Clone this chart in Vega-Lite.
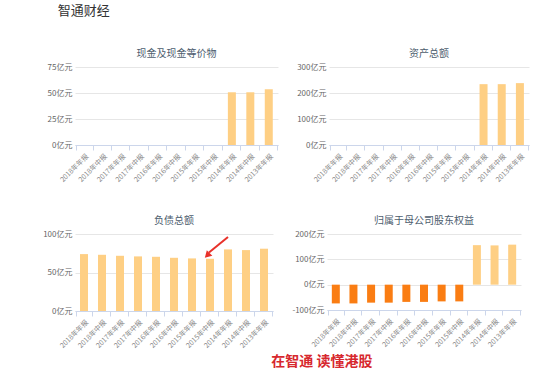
{
  "$schema": "https://vega.github.io/schema/vega-lite/v6.json",
  "background": "white",
  "padding": {"left": 42, "top": 5, "right": 5, "bottom": 5},
  "datasets": {
    "fin": [
      {"period": "2018年年报", "cash": null, "assets": null, "liabilities": 73.9, "equity": -74},
      {"period": "2018年中报", "cash": null, "assets": null, "liabilities": 73.0, "equity": -74},
      {"period": "2017年年报", "cash": null, "assets": null, "liabilities": 71.7, "equity": -71},
      {"period": "2017年中报", "cash": null, "assets": null, "liabilities": 70.9, "equity": -71},
      {"period": "2016年年报", "cash": null, "assets": null, "liabilities": 70.4, "equity": -68},
      {"period": "2016年中报", "cash": null, "assets": null, "liabilities": 69.1, "equity": -68},
      {"period": "2015年年报", "cash": null, "assets": null, "liabilities": 68.3, "equity": -66},
      {"period": "2015年中报", "cash": null, "assets": null, "liabilities": 67.8, "equity": -66},
      {"period": "2014年年报", "cash": 50.7, "assets": 234, "liabilities": 80.0, "equity": 156},
      {"period": "2014年中报", "cash": 50.7, "assets": 234, "liabilities": 79.1, "equity": 155},
      {"period": "2013年年报", "cash": 53.6, "assets": 238, "liabilities": 80.9, "equity": 158}
    ],
    "arrow": [
      {"period": "2015年中报", "period2": "2014年年报", "liabilities": 76, "liabilities2": 96}
    ]
  },
  "config": {
    "view": {"stroke": null},
    "font": "Noto Sans CJK SC",
    "axis": {
      "labelFont": "Noto Sans CJK SC",
      "labelFontSize": 8,
      "labelColor": "#666666",
      "domainColor": "#ccd6eb",
      "tickColor": "#ccd6eb",
      "gridColor": "#e6e6e6",
      "title": null
    },
    "axisY": {"domain": false, "ticks": false, "labelPadding": 3},
    "axisX": {"grid": false, "labelAngle": -45, "labelFontSize": 7, "labelColor": "#888888", "tickBand": "extent", "tickSize": 5, "labelPadding": 2},
    "title": {"font": "Noto Sans CJK SC", "fontSize": 10, "color": "#4d5d6e", "fontWeight": "normal", "offset": 4}
  },
  "title": {"text": "智通财经", "anchor": "start", "fontSize": 13, "color": "#333333", "dx": 15, "offset": 31, "fontWeight": "normal"},
  "vconcat": [
    {
      "title": {"text": "在智通 读懂港股", "orient": "bottom", "anchor": "middle", "dx": 36, "fontSize": 14, "fontWeight": "bold", "color": "#d7282e", "offset": 6},
      "spacing": 33,
      "vconcat": [
        {
          "spacing": 18,
          "hconcat": [
            {
              "title": "现金及现金等价物",
              "width": 203, "height": 78,
              "data": {"name": "fin"},
              "mark": {"type": "bar", "size": 8, "color": "#fecf84"},
              "encoding": {
                "x": {"field": "period", "type": "nominal", "sort": null,
                      "scale": {"domain": ["2018年年报","2018年中报","2017年年报","2017年中报","2016年年报","2016年中报","2015年年报","2015年中报","2014年年报","2014年中报","2013年年报"]}},
                "y": {"field": "cash", "type": "quantitative", "scale": {"domain": [0, 75]},
                      "axis": {"values": [0, 25, 50, 75], "labelExpr": "datum.value + '亿元'"}}
              }
            },
            {
              "title": "资产总额",
              "width": 200, "height": 78,
              "data": {"name": "fin"},
              "mark": {"type": "bar", "size": 8, "color": "#fecf84"},
              "encoding": {
                "x": {"field": "period", "type": "nominal", "sort": null,
                      "scale": {"domain": ["2018年年报","2018年中报","2017年年报","2017年中报","2016年年报","2016年中报","2015年年报","2015年中报","2014年年报","2014年中报","2013年年报"]}},
                "y": {"field": "assets", "type": "quantitative", "scale": {"domain": [0, 300]},
                      "axis": {"values": [0, 100, 200, 300], "labelExpr": "datum.value + '亿元'"}}
              }
            }
          ]
        },
        {
          "spacing": 18,
          "hconcat": [
            {
              "title": "负债总额",
              "width": 198, "height": 77,
              "encoding": {
                "x": {"field": "period", "type": "nominal", "sort": null,
                      "scale": {"domain": ["2018年年报","2018年中报","2017年年报","2017年中报","2016年年报","2016年中报","2015年年报","2015年中报","2014年年报","2014年中报","2013年年报"]}},
                "y": {"field": "liabilities", "type": "quantitative", "scale": {"domain": [0, 100]},
                      "axis": {"values": [0, 50, 100], "labelExpr": "datum.value + '亿元'"}}
              },
              "layer": [
                {
                  "data": {"name": "fin"},
                  "mark": {"type": "bar", "size": 8, "color": "#fecf84"}
                },
                {
                  "data": {"name": "arrow"},
                  "mark": {"type": "rule", "color": "#e8312a", "strokeWidth": 2, "xOffset": -1},
                  "encoding": {
                    "x2": {"field": "period2"},
                    "y2": {"field": "liabilities2"}
                  }
                },
                {
                  "data": {"name": "arrow"},
                  "mark": {"type": "point", "shape": "triangle", "angle": 225, "filled": true, "color": "#e8312a", "size": 60, "opacity": 1, "xOffset": -2, "yOffset": 2}
                }
              ]
            },
            {
              "title": "归属于母公司股东权益",
              "width": 194, "height": 76,
              "data": {"name": "fin"},
              "mark": {"type": "bar", "size": 8},
              "encoding": {
                "x": {"field": "period", "type": "nominal", "sort": null,
                      "scale": {"domain": ["2018年年报","2018年中报","2017年年报","2017年中报","2016年年报","2016年中报","2015年年报","2015年中报","2014年年报","2014年中报","2013年年报"]}},
                "y": {"field": "equity", "type": "quantitative", "scale": {"domain": [-100, 200]},
                      "axis": {"values": [-100, 0, 100, 200], "labelExpr": "datum.value + '亿元'"}},
                "color": {"condition": {"test": "datum.equity < 0", "value": "#fa7d13"}, "value": "#fecf84"}
              }
            }
          ]
        }
      ]
    }
  ]
}
